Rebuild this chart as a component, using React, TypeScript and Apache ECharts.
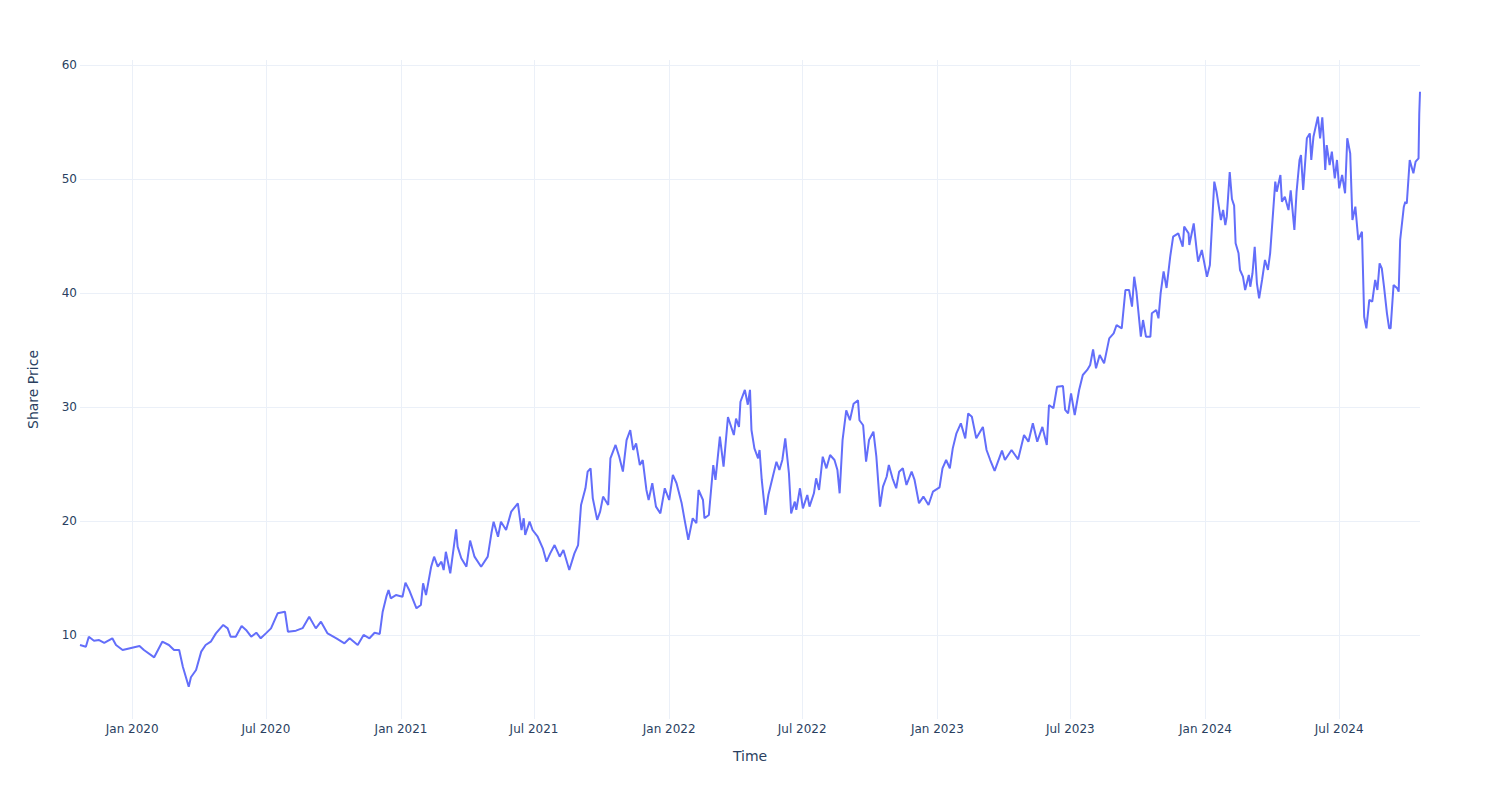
import React, { useEffect, useRef } from "react";
import * as echarts from "echarts";

// Day offsets from 2020-01-01 and share prices
const dayOffsets = [
  -71, -63, -59, -52, -45, -38, -27, -22, -13, 0, 10, 16, 30, 41, 50, 57, 64, 69, 73, 77,
  80, 87, 94, 100, 107, 114, 124, 130, 134, 141, 149, 155, 162, 169, 175, 182, 189, 198, 208, 212,
  223, 232, 241, 250, 257, 266, 278, 289, 296, 307, 315, 323, 330, 337, 341, 346, 349, 352, 359, 368,
  372, 377, 387, 393, 396, 400, 407, 411, 416, 421, 424, 427, 433, 441, 443, 448, 455, 460, 466, 475,
  484, 489, 492, 498, 502, 509, 516, 525, 530, 533, 535, 541, 545, 552, 559, 564, 569, 575, 582, 587,
  595, 602, 607, 611, 617, 620, 624, 627, 633, 637, 641, 648, 651, 658, 663, 668, 673, 678, 682, 686,
  691, 695, 700, 703, 708, 713, 719, 725, 731, 736, 741, 748, 752, 757, 763, 768, 771, 777, 779, 785,
  791, 794, 800, 805, 811, 819, 822, 826, 828, 834, 838, 841, 843, 847, 852, 854, 857, 862, 866, 872,
  877, 881, 885, 889, 894, 897, 902, 904, 909, 913, 919, 922, 928, 931, 935, 940, 945, 950, 956, 960,
  963, 967, 972, 977, 982, 988, 990, 995, 999, 1003, 1009, 1013, 1018, 1022, 1027, 1030, 1035, 1040, 1044, 1049,
  1054, 1061, 1065, 1071, 1077, 1084, 1090, 1099, 1103, 1108, 1113, 1117, 1122, 1128, 1134, 1138, 1143, 1149, 1158, 1163,
  1168, 1174, 1184, 1188, 1197, 1206, 1214, 1220, 1226, 1232, 1239, 1245, 1248, 1254, 1259, 1267, 1270, 1274, 1278, 1283,
  1289, 1294, 1300, 1304, 1308, 1312, 1317, 1323, 1330, 1336, 1340, 1347, 1352, 1357, 1361, 1364, 1367, 1373, 1376, 1380,
  1386, 1388, 1394, 1397, 1400, 1404, 1408, 1413, 1417, 1424, 1430, 1432, 1438, 1439, 1445, 1449, 1451, 1456, 1463, 1467,
  1473, 1476, 1482, 1485, 1488, 1490, 1494, 1497, 1500, 1502, 1506, 1508, 1512, 1515, 1520, 1522, 1525, 1528, 1531, 1534,
  1538, 1542, 1546, 1549, 1556, 1558, 1563, 1565, 1569, 1574, 1577, 1582, 1585, 1589, 1591, 1594, 1599, 1603, 1605, 1608,
  1614, 1617, 1620, 1622, 1624, 1626, 1630, 1633, 1637, 1640, 1643, 1647, 1651, 1654, 1658, 1661, 1665, 1669, 1674, 1677,
  1680, 1684, 1688, 1692, 1695, 1698, 1701, 1704, 1708, 1711, 1713, 1717, 1722, 1724, 1726, 1731, 1733, 1735, 1739, 1744,
  1747, 1751, 1752, 1753,
];

const sharePrice = [
  9.12, 8.97, 9.85, 9.5, 9.55, 9.3, 9.71, 9.12, 8.68, 8.88, 9.03, 8.68, 8.04, 9.41, 9.12, 8.68, 8.68, 7.22, 6.34, 5.46,
  6.29, 6.93, 8.54, 9.12, 9.41, 10.14, 10.88, 10.58, 9.85, 9.85, 10.79, 10.44, 9.85, 10.2, 9.71, 10.14, 10.58, 11.9, 12.04, 10.29,
  10.38, 10.6, 11.6, 10.58, 11.17, 10.14, 9.71, 9.27, 9.71, 9.12, 10.0, 9.71, 10.2, 10.09, 12.04, 13.36, 13.95, 13.22, 13.5, 13.36,
  14.59, 13.95, 12.34, 12.63, 14.53, 13.5, 15.99, 16.87, 15.99, 16.43, 15.7, 17.3, 15.41, 19.27, 17.75, 16.73, 15.99, 18.28, 16.87, 15.99,
  16.87, 18.92, 19.94, 18.62, 19.94, 19.21, 20.82, 21.55, 19.21, 20.24, 18.77, 19.94, 19.21, 18.62, 17.6, 16.43, 17.16, 17.89, 16.87, 17.46,
  15.7, 17.16, 17.89, 21.4, 22.87, 24.33, 24.62, 21.99, 20.1, 20.82, 22.14, 21.4, 25.5, 26.67, 25.64, 24.33, 27.1, 27.98, 26.23, 26.81,
  24.91, 25.35, 22.72, 21.84, 23.31, 21.26, 20.67, 22.87, 21.84, 24.04, 23.31, 21.55, 20.1, 18.35, 20.24, 19.8, 22.72, 21.84, 20.24, 20.53,
  24.91, 23.6, 27.4, 24.77, 29.12, 27.54, 28.99, 28.25, 30.46, 31.5, 30.2, 31.5, 27.98, 26.37, 25.5, 26.23, 23.6, 20.53, 22.28, 23.88,
  25.2, 24.47, 25.35, 27.25, 24.18, 20.67, 21.7, 20.97, 22.87, 21.11, 22.28, 21.26, 22.43, 23.74, 22.72, 25.64, 24.62, 25.79, 25.35, 24.47,
  22.43, 27.1, 29.71, 28.84, 30.29, 30.58, 28.84, 28.4, 25.2, 27.1, 27.83, 25.64, 21.26, 23.02, 23.88, 24.91, 23.74, 22.87, 24.33, 24.62,
  23.16, 24.33, 23.6, 21.55, 22.14, 21.4, 22.57, 22.95, 24.62, 25.35, 24.62, 26.37, 27.69, 28.57, 27.25, 29.44, 29.15, 27.25, 28.25, 26.23,
  25.35, 24.4, 26.17, 25.35, 26.23, 25.41, 27.54, 26.96, 28.57, 26.96, 28.25, 26.67, 30.18, 29.89, 31.78, 31.84, 29.74, 29.44, 31.2, 29.3,
  31.49, 32.81, 33.25, 33.68, 35.06, 33.39, 34.56, 33.83, 36.02, 36.46, 37.19, 36.9, 40.26, 40.26, 38.8, 41.43, 40.12, 36.17, 37.63, 36.17,
  36.17, 38.22, 38.51, 37.78, 40.0, 41.9, 40.44, 43.2, 44.94, 45.23, 44.06, 45.82, 45.23, 44.21, 46.1, 43.77, 42.75, 43.77, 41.43, 42.46,
  49.77, 48.89, 46.4, 47.28, 45.96, 46.7, 50.6, 48.25, 47.66, 44.36, 43.48, 42.02, 41.43, 40.26, 41.58, 40.55, 41.73, 44.06, 40.85, 39.53,
  41.14, 42.9, 42.02, 43.48, 49.77, 48.89, 50.35, 48.0, 48.45, 47.28, 49.0, 45.53, 48.9, 51.67, 52.1, 49.04, 53.57, 54.0, 51.67, 53.71,
  55.47, 53.57, 55.41, 53.42, 50.79, 52.98, 51.23, 52.4, 50.06, 51.67, 49.18, 50.35, 48.75, 53.57, 52.25, 46.4, 47.57, 44.65, 45.38, 37.92,
  36.9, 39.39, 39.24, 41.14, 40.26, 42.6, 42.16, 40.55, 38.22, 36.9, 36.9, 40.7, 40.41, 40.12, 44.65, 47.57, 48.0, 47.85, 51.67, 50.5,
  51.52, 51.81, 55.76, 57.65,
];

const yTicks = [10, 20, 30, 40, 50, 60];
const monthNames = ["Jan", "Feb", "Mar", "Apr", "May", "Jun", "Jul", "Aug", "Sep", "Oct", "Nov", "Dec"];

const BASE = Date.UTC(2020, 0, 1);
const DAY = 86400000;

export default function App() {
  const ref = useRef<HTMLDivElement>(null);
  useEffect(() => {
    if (!ref.current) return;
    const chart = echarts.init(ref.current, null, { renderer: "svg" });
    const data = dayOffsets.map((d, i) => [BASE + d * DAY, sharePrice[i]]);
    const font = "DejaVu Sans, Verdana, sans-serif";
    chart.setOption({
      animation: false,
      backgroundColor: "#ffffff",
      grid: { left: 80, right: 80, top: 60, bottom: 81, containLabel: false },
      xAxis: {
        type: "time",
        min: "dataMin",
        max: "dataMax",
        minInterval: 180 * DAY,
        maxInterval: 186 * DAY,
        name: "Time",
        nameLocation: "middle",
        nameGap: 30,
        nameTextStyle: { color: "#2a3f5f", fontSize: 14, fontFamily: font },
        axisLine: { show: false },
        axisTick: { show: false },
        axisLabel: {
          color: "#2a3f5f",
          fontSize: 12,
          fontFamily: font,
          margin: 4,
          showMinLabel: false,
          showMaxLabel: false,
          hideOverlap: false,
          formatter: (v: number) => {
            const dt = new Date(v);
            return monthNames[dt.getUTCMonth()] + " " + dt.getUTCFullYear();
          },
        },
        splitLine: {
          show: true,
          showMinLine: false,
          showMaxLine: false,
          lineStyle: { color: "#ebf0f8", width: 1 },
        },
      },
      yAxis: {
        type: "value",
        min: 2.63,
        max: 60.44,
        splitNumber: 6,
        name: "Share Price",
        nameLocation: "middle",
        nameGap: 40,
        nameTextStyle: { color: "#2a3f5f", fontSize: 14, fontFamily: font },
        axisLine: { show: false },
        axisTick: { show: false },
        axisLabel: {
          color: "#2a3f5f",
          fontSize: 12,
          fontFamily: font,
          margin: 3,
          showMinLabel: false,
          showMaxLabel: false,
          formatter: (v: number) => (yTicks.includes(Math.round(v * 1000) / 1000) ? String(v) : ""),
        },
        splitLine: {
          show: true,
          showMinLine: false,
          showMaxLine: false,
          lineStyle: { color: "#ebf0f8", width: 1 },
        },
      },
      series: [
        {
          type: "line",
          data,
          showSymbol: false,
          symbol: "none",
          lineStyle: { color: "#636efa", width: 2 },
          itemStyle: { color: "#636efa" },
        },
      ],
    });
    return () => chart.dispose();
  }, []);
  return <div ref={ref} style={{ width: 1500, height: 800, position: "absolute", left: 0, top: 0 }} />;
}
